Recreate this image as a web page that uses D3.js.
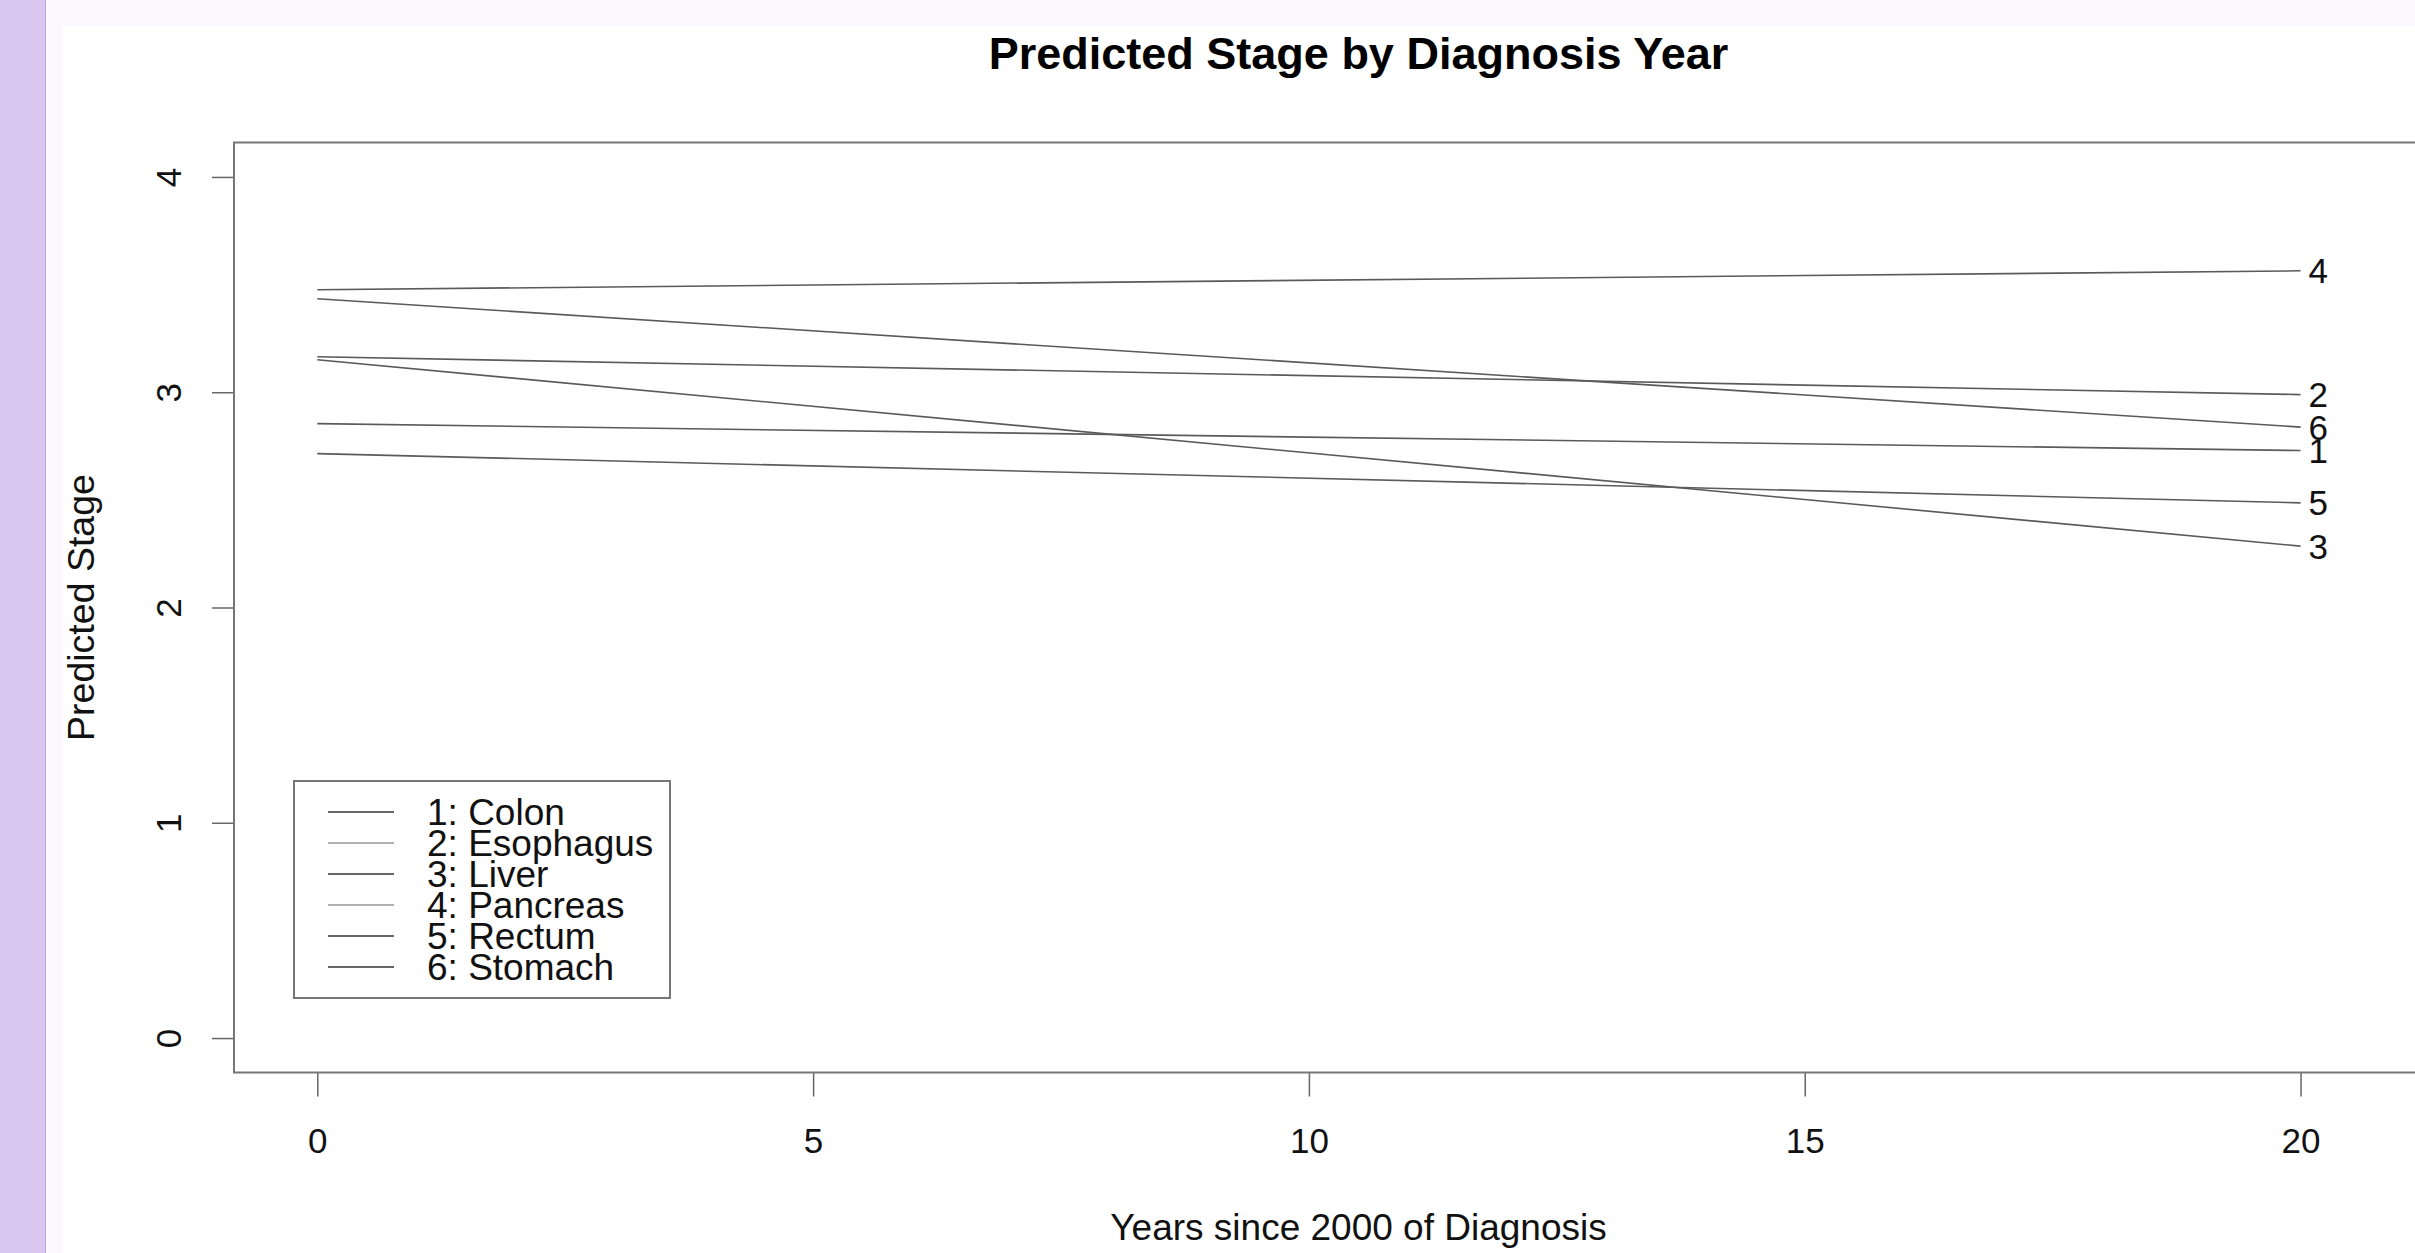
<!doctype html>
<html>
<head>
<title>Predicted Stage by Diagnosis Year</title>
<script src="https://d3js.org/d3.v7.min.js"></script>
<style>
body {
  margin: 0;
  overflow: hidden;
  background-color: #fbf9fe;
  font-family: "Liberation Sans", Arial, sans-serif;
}
.side {
  position: absolute;
  left: 0; top: 0;
  width: 45px; height: 1253px;
  background-color: #d9c7f0;
  border-right: 1px solid #b9a3dc;
}
svg {
  position: absolute;
  left: 0; top: 0;
}
.axis text {
  font: 35px "Liberation Sans", Arial, sans-serif;
  fill: #111;
}
.axis line {
  stroke: #666;
  stroke-width: 1.5px;
}
</style>
</head>
<body>
<div class="side"></div>
<svg width="2415" height="1253"></svg>

<script>
// data
var cancers = ["Colon", "Esophagus", "Liver", "Pancreas", "Rectum", "Stomach"];
var years = [0, 20];
var colon = [2.854, 2.729];
var esophagus = [3.165, 2.989];
var liver = [3.151, 2.285];
var pancreas = [3.476, 3.564];
var rectum = [2.715, 2.486];
var stomach = [3.434, 2.838];
var xTicks = [0, 5, 10, 15, 20];
var yTicks = [0, 1, 2, 3, 4];

var series = [colon, esophagus, liver, pancreas, rectum, stomach];

var svg = d3.select("svg");

// white plot page
svg.append("rect")
    .attr("x", 63).attr("y", 26)
    .attr("width", 2415 - 63).attr("height", 1253 - 26)
    .attr("fill", "#fff");

// R style 4% padding on the ranges
var xLim = [0, 21], yLim = [0, 4];
var xPad = 0.04 * (xLim[1] - xLim[0]), yPad = 0.04 * (yLim[1] - yLim[0]);

var box = {left: 234, right: 2483, top: 142.5, bottom: 1072.5};

var x = d3.scaleLinear().domain([xLim[0] - xPad, xLim[1] + xPad]).range([box.left, box.right]),
    y = d3.scaleLinear().domain([yLim[0] - yPad, yLim[1] + yPad]).range([box.bottom, box.top]);

// title
svg.append("text")
    .attr("x", (box.left + box.right) / 2)
    .attr("y", 69)
    .attr("text-anchor", "middle")
    .style("font", "bold 45px 'Liberation Sans', Arial, sans-serif")
    .attr("fill", "#000")
    .text("Predicted Stage by Diagnosis Year");

// x axis
var gx = svg.append("g")
    .attr("class", "axis")
    .attr("transform", "translate(0," + box.bottom + ")")
    .call(d3.axisBottom(x).tickValues(xTicks).tickSize(24).tickPadding(32).tickFormat(d3.format("d")));
gx.select(".domain").remove();

// y axis, labels parallel to the axis
var gy = svg.append("g")
    .attr("class", "axis")
    .attr("transform", "translate(" + box.left + ",0)")
    .call(d3.axisLeft(y).tickValues(yTicks).tickSize(22).tickFormat(d3.format("d")));
gy.select(".domain").remove();
gy.selectAll(".tick text")
    .attr("x", 0)
    .attr("dy", 0)
    .attr("text-anchor", "middle")
    .attr("transform", "translate(-53,0) rotate(-90)");

// axis titles
svg.append("text")
    .attr("x", (box.left + box.right) / 2)
    .attr("y", 1240)
    .attr("text-anchor", "middle")
    .style("font", "37px 'Liberation Sans', Arial, sans-serif")
    .attr("fill", "#111")
    .text("Years since 2000 of Diagnosis");

svg.append("text")
    .attr("transform", "translate(94," + (box.top + box.bottom) / 2 + ") rotate(-90)")
    .attr("text-anchor", "middle")
    .style("font", "37.5px 'Liberation Sans', Arial, sans-serif")
    .attr("fill", "#111")
    .text("Predicted Stage");

// lines
var line = d3.line()
    .x(function(d, i) { return x(years[i]); })
    .y(function(d) { return y(d); });

svg.selectAll(".series")
    .data(series)
  .enter().append("path")
    .attr("class", "series")
    .attr("d", line)
    .attr("fill", "none")
    .attr("stroke", "#5a5a5a")
    .attr("stroke-width", 1.6);

// end labels
svg.selectAll(".endlabel")
    .data(series)
  .enter().append("text")
    .attr("class", "endlabel")
    .attr("x", x(years[years.length - 1]) + 8)
    .attr("y", function(d) { return y(d[d.length - 1]); })
    .attr("dy", "0.36em")
    .style("font", "35px 'Liberation Sans', Arial, sans-serif")
    .attr("fill", "#111")
    .text(function(d, i) { return i + 1; });

// plot frame
svg.append("rect")
    .attr("x", box.left).attr("y", box.top)
    .attr("width", box.right - box.left).attr("height", box.bottom - box.top)
    .attr("fill", "none")
    .attr("stroke", "#777")
    .attr("stroke-width", 2);

// legend
var lg = svg.append("g").attr("transform", "translate(294,781)");
lg.append("rect")
    .attr("width", 376).attr("height", 217)
    .attr("fill", "#fff")
    .attr("stroke", "#777")
    .attr("stroke-width", 2);

var rows = lg.selectAll(".row")
    .data(cancers)
  .enter().append("g")
    .attr("class", "row")
    .attr("transform", function(d, i) { return "translate(0," + (31 + i * 31) + ")"; });

rows.append("line")
    .attr("x1", 34).attr("x2", 100)
    .attr("stroke", function(d, i) { return (i == 1 || i == 3) ? "#999" : "#333"; })
    .attr("stroke-width", 1.6);

rows.append("text")
    .attr("x", 133)
    .attr("dy", "0.36em")
    .style("font", "37px 'Liberation Sans', Arial, sans-serif")
    .attr("fill", "#111")
    .text(function(d, i) { return (i + 1) + ": " + d; });
</script>
</body>
</html>
